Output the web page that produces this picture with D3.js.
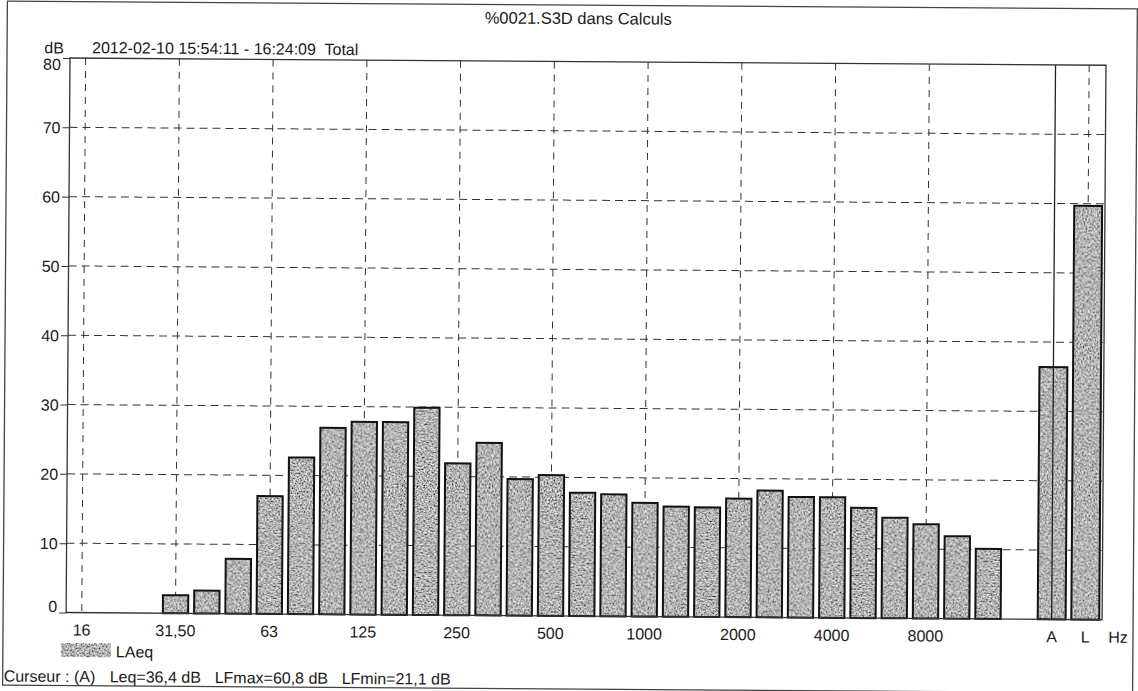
<!DOCTYPE html>
<html>
<head>
<meta charset="utf-8">
<script src="https://cdn.jsdelivr.net/npm/d3@7"></script>
<style>
  body { margin: 0; background: #fff; }
  svg { display: block; font-family: "Liberation Sans", Arial, sans-serif; }
</style>
</head>
<body>
<div id="chart"></div>
<script>
// third-octave bands (16000 has no value)
const freqBands = ["16", "20", "25", "31.5", "40", "50", "63", "80", "100", "125", "160", "200",
  "250", "315", "400", "500", "630", "800", "1000", "1250", "1600", "2000", "2500", "3150",
  "4000", "5000", "6300", "8000", "10000", "12500", "16000"];
const laeq = [null, null, null, 2.6, 3.3, 7.9, 17.0, 22.6, 26.9, 27.8, 27.8, 29.9,
  21.9, 24.9, 19.7, 20.3, 17.8, 17.6, 16.4, 15.9, 15.8, 17.1, 18.3, 17.4,
  17.4, 15.9, 14.5, 13.6, 11.9, 10.1, null];

// global levels at the right end
const sumBands = ["A", "L"];
const sumValues = [36.4, 59.7];

const xTickBands = ["16", "31.5", "63", "125", "250", "500", "1000", "2000", "4000", "8000"];
const xTickLabels = ["16", "31,50", "63", "125", "250", "500", "1000", "2000", "4000", "8000"];
const gridBands = ["16", "31.5", "63", "125", "250", "500", "1000", "2000", "4000", "8000"];
const cursorBand = "A";
const yTicks = [0, 10, 20, 30, 40, 50, 60, 70, 80];
const footer = ["Curseur : (A)", "Leq=36,4 dB", "LFmax=60,8 dB", "LFmin=21,1 dB"];

const W = 1138, H = 691;
const plot = { left: 68, split: 1036.75, right: 1104, top: 61.5, bottom: 616 };

const svg = d3.select("#chart")
  .append("svg")
  .attr("width", W)
  .attr("height", H);

// grainy grey fill, like the scanned printout
const defs = svg.append("defs");
const grain = defs.append("filter")
  .attr("id", "grain")
  .attr("x", 0).attr("y", 0).attr("width", 1).attr("height", 1);
grain.append("feTurbulence")
  .attr("type", "fractalNoise")
  .attr("baseFrequency", 0.6)
  .attr("numOctaves", 2)
  .attr("seed", 7)
  .attr("result", "noise");
grain.append("feColorMatrix")
  .attr("in", "noise")
  .attr("type", "matrix")
  .attr("values", "1.7 0 0 0 -0.4  1.7 0 0 0 -0.4  1.7 0 0 0 -0.4  0 0 0 0 1")
  .attr("result", "grey");
grain.append("feComposite")
  .attr("in", "grey")
  .attr("in2", "SourceGraphic")
  .attr("operator", "in");

// the scan is slightly tilted
const g = svg.append("g")
  .attr("transform", `rotate(0.4, ${W / 2}, ${H / 2})`);

g.append("rect")
  .attr("x", 5).attr("y", 5)
  .attr("width", 1130).attr("height", 684)
  .attr("fill", "none")
  .attr("stroke", "#444")
  .attr("stroke-width", 1.3);

const x = d3.scaleBand()
  .domain(freqBands)
  .range([plot.left, plot.split])
  .paddingInner(0.19)
  .paddingOuter(0.095);

const xSum = d3.scaleBand()
  .domain(sumBands)
  .range([plot.split, plot.right])
  .paddingInner(0.17)
  .paddingOuter(0.085);

const y = d3.scaleLinear()
  .domain([0, 80])
  .range([plot.bottom, plot.top]);

const cx = b => x(b) + x.bandwidth() / 2;
const cxSum = b => xSum(b) + xSum.bandwidth() / 2;

// grid
g.append("g")
  .selectAll("line")
  .data(yTicks.filter(t => t > 0 && t < 80))
  .join("line")
  .attr("x1", plot.left).attr("x2", plot.right)
  .attr("y1", d => y(d)).attr("y2", d => y(d))
  .attr("stroke", "#333")
  .attr("stroke-dasharray", "8,5");

g.append("g")
  .selectAll("line")
  .data(gridBands.map(cx).concat([cxSum("L")]))
  .join("line")
  .attr("x1", d => d).attr("x2", d => d)
  .attr("y1", plot.top).attr("y2", plot.bottom)
  .attr("stroke", "#333")
  .attr("stroke-dasharray", "7,6");

// bars
const data = freqBands.map((b, i) => ({ x0: x(b), w: x.bandwidth(), value: laeq[i] }))
  .filter(d => d.value != null)
  .concat(sumBands.map((b, i) => ({ x0: xSum(b), w: xSum.bandwidth(), value: sumValues[i] })));

const bars = g.append("g");
bars.selectAll("rect.fill")
  .data(data)
  .join("rect")
  .attr("class", "fill")
  .attr("x", d => d.x0)
  .attr("y", d => y(d.value))
  .attr("width", d => d.w)
  .attr("height", d => y(0) - y(d.value))
  .attr("fill", "#888")
  .attr("filter", "url(#grain)");

bars.selectAll("rect.edge")
  .data(data)
  .join("rect")
  .attr("class", "edge")
  .attr("x", d => d.x0)
  .attr("y", d => y(d.value))
  .attr("width", d => d.w)
  .attr("height", d => y(0) - y(d.value))
  .attr("fill", "none")
  .attr("stroke", "#121212")
  .attr("stroke-width", 2);

// cursor on A
g.append("line")
  .attr("x1", cxSum(cursorBand)).attr("x2", cxSum(cursorBand))
  .attr("y1", plot.top).attr("y2", plot.bottom)
  .attr("stroke", "#222")
  .attr("stroke-width", 1.3);

// plot frame
g.append("path")
  .attr("d", `M${plot.left},${plot.bottom}V${plot.top}H${plot.right}V${plot.bottom}Z`)
  .attr("fill", "none")
  .attr("stroke", "#333")
  .attr("stroke-width", 1.3);

// y axis
const yAxis = g.append("g")
  .attr("transform", `translate(${plot.left},0)`)
  .call(d3.axisLeft(y).tickValues(yTicks).tickSize(7).tickPadding(2));
yAxis.select(".domain").remove();
yAxis.selectAll(".tick line").attr("stroke", "#333");
yAxis.selectAll(".tick text")
  .attr("font-family", "Liberation Sans, Arial, sans-serif")
  .attr("font-size", 16)
  .attr("fill", "#1a1a1a")
  .attr("dy", d => d === 0 ? "-0.05em" : d === 80 ? "0.72em" : "0.35em");

// x labels
const labelFont = 16;
g.append("g")
  .selectAll("text")
  .data(xTickBands)
  .join("text")
  .attr("x", d => cx(d))
  .attr("y", 639)
  .attr("text-anchor", "middle")
  .attr("font-size", labelFont)
  .attr("fill", "#1a1a1a")
  .text((d, i) => xTickLabels[i]);

g.append("g")
  .selectAll("text")
  .data(sumBands)
  .join("text")
  .attr("x", d => cxSum(d))
  .attr("y", 639)
  .attr("text-anchor", "middle")
  .attr("font-size", labelFont)
  .attr("fill", "#1a1a1a")
  .text(d => d);

g.append("text")
  .attr("x", 1120).attr("y", 639)
  .attr("text-anchor", "middle")
  .attr("font-size", labelFont)
  .attr("fill", "#1a1a1a")
  .text("Hz");

// titles
g.append("text")
  .attr("x", 576).attr("y", 24)
  .attr("text-anchor", "middle")
  .attr("font-size", 16.5)
  .attr("fill", "#1a1a1a")
  .text("%0021.S3D dans Calculs");

g.append("text")
  .attr("x", 52).attr("y", 57)
  .attr("text-anchor", "middle")
  .attr("font-size", 16)
  .attr("fill", "#1a1a1a")
  .text("dB");

g.append("text")
  .attr("x", 90).attr("y", 56.5)
  .attr("font-size", 16)
  .attr("fill", "#1a1a1a")
  .attr("xml:space", "preserve")
  .text("2012-02-10 15:54:11 - 16:24:09  Total");

// legend
const legend = g.append("g").attr("transform", "translate(63,646.5)");
legend.append("rect")
  .attr("width", 50).attr("height", 14)
  .attr("fill", "#888")
  .attr("filter", "url(#grain)");
legend.append("text")
  .attr("x", 55).attr("y", 14)
  .attr("font-size", 16)
  .attr("fill", "#1a1a1a")
  .text("LAeq");

// cursor readout
g.append("text")
  .attr("y", 685.5)
  .attr("font-size", 16)
  .attr("fill", "#1a1a1a")
  .selectAll("tspan")
  .data(footer)
  .join("tspan")
  .attr("x", (d, i) => [6, 112, 217, 344][i])
  .text(d => d);
</script>
</body>
</html>
